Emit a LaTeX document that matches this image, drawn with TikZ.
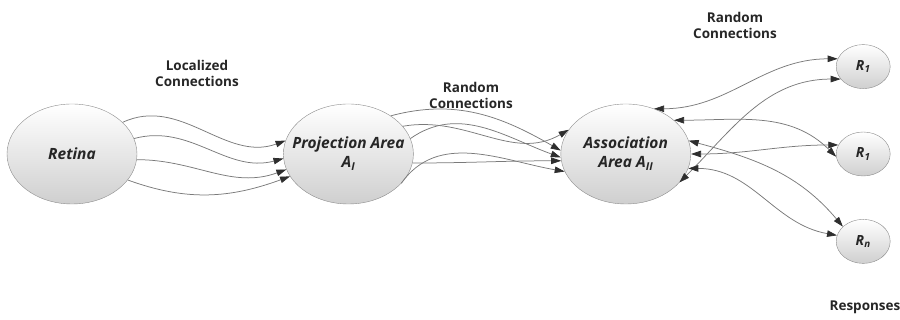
\documentclass[tikz,border=0pt]{standalone}
\usepackage{fontspec}
\setmainfont{Open Sans}
\usetikzlibrary{arrows.meta,positioning,shapes.geometric}
\definecolor{rim}{HTML}{8C8C8C}
\definecolor{wire}{HTML}{7A7A7A}
\definecolor{tip}{HTML}{2E2E2E}
\definecolor{shade}{HTML}{CFCFCF}
\definecolor{ink}{HTML}{262626}

\begin{document}
\begin{tikzpicture}[
  x=1pt, y=1pt,
  font=\fontsize{13.5}{16}\selectfont\bfseries, text=ink,
  area/.style={ellipse, draw=rim, top color=white, bottom color=shade, inner xsep=-16pt, inner ysep=0pt, minimum width=130pt, minimum height=100pt, align=center, font=\fontsize{15.5}{19}\selectfont\bfseries\itshape},
  resp/.style={ellipse, draw=rim, top color=white, bottom color=shade, inner sep=0pt, minimum width=54pt, minimum height=44pt, font=\fontsize{14}{16}\selectfont\bfseries\itshape},
  lbl/.style={align=center},
  link/.style={-{Triangle[length=10pt,width=6.5pt,color=tip]}, draw=wire, line width=0.75pt},
  both/.style={{Triangle[length=10pt,width=6.5pt,color=tip]}-{Triangle[length=10pt,width=6.5pt,color=tip]}, draw=wire, line width=0.75pt}
]
\useasboundingbox (0,0) rectangle (900,320);

\node[area] (retina) at (72,166) {Retina};
\node[area, right=146pt of retina] (proj) {Projection Area\\A\textsubscript{I}};
\node[area, right=147pt of proj] (assoc) {Association\\Area A\textsubscript{II}};
\node[resp, right=145pt of assoc] (r2) {R\textsubscript{1}};
\node[resp, above=43pt of r2] (r1) {R\textsubscript{1}};
\node[resp, below=43pt of r2] (rn) {R\textsubscript{n}};

\node[lbl] (loclbl) at (197,247) {Localized\\Connections};
\node[lbl] (rndlbl) at (471,225) {Random\\Connections};
\node[lbl] (rndlbl2) at (735,295) {Random\\Connections};
\node[lbl] (resplbl) at (865,13) {Responses};

% retina to projection area
\draw[link] (retina.32) to[out=25,in=200] (proj.168);
\draw[link] (retina.14) to[out=15,in=195] (proj.184);
\draw[link] (retina.-5) to[out=0,in=200] (proj.194);
\draw[link] (retina.-25) to[out=-20,in=200] (proj.201);

% projection area to association area
\draw[link] (proj.42) to[out=15,in=150] (assoc.177);
\draw[link] (proj.27) to[out=10,in=210] (assoc.157);
\draw[link] (proj.14) to[out=35,in=160] (assoc.183);
\draw[link] (proj.-8) to[out=0,in=180] (assoc.186);
\draw[link] (proj.-29) to[out=55,in=170] (assoc.196);

% association area to responses
\draw[both] (assoc.58) to[out=0,in=180] (r1.163);
\draw[both] (assoc.-28) to[out=45,in=180] (r1.209);
\draw[both] (assoc.35) to[out=0,in=135] (r2.186);
\draw[both] (assoc.0) to[out=0,in=180] (r2.160);
\draw[both] (assoc.12) to[out=-15,in=130] (rn.144);
\draw[both] (assoc.-13) to[out=0,in=170] (rn.167);
\end{tikzpicture}
\end{document}
